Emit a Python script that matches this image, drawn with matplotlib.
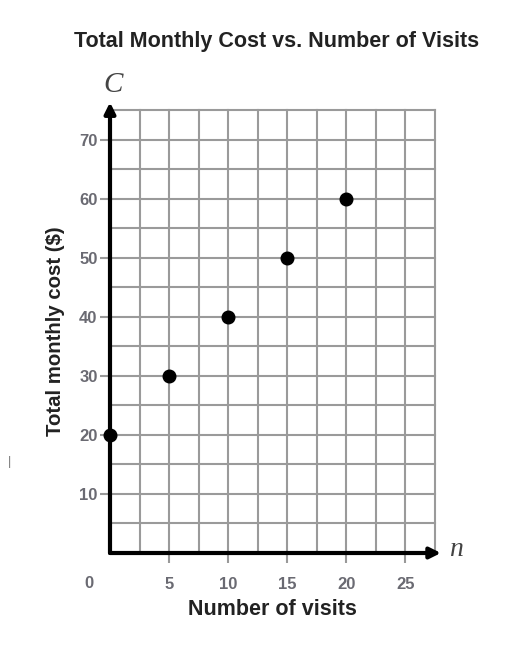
import matplotlib
matplotlib.use("Agg")
import matplotlib.pyplot as plt
import numpy as np

plt.rcParams['font.family'] = ['Liberation Sans', 'DejaVu Sans']

visits = [0, 5, 10, 15, 20]
cost = [20, 30, 40, 50, 60]
x_ticks = [5, 10, 15, 20, 25]
y_ticks = [10, 20, 30, 40, 50, 60, 70]

fig = plt.figure(figsize=(5.1, 6.45), dpi=100)
ax = fig.add_axes([110/510, 92/645, 325/510, 443/645])
ax.set_xlim(0, 27.5)
ax.set_ylim(0, 75)

grid_c = '#9a9a9a'
for gx in np.arange(2.5, 27.6, 2.5):
    ax.plot([gx, gx], [0, 75], color=grid_c, lw=1.5, clip_on=False, zorder=1)
for gy in np.arange(5, 75.1, 5):
    ax.plot([0, 27.5], [gy, gy], color=grid_c, lw=1.5, clip_on=False, zorder=1)

for s in ax.spines.values():
    s.set_visible(False)

# axis arrows
ax.annotate('', xy=(28.0, 0), xytext=(0, 0), xycoords='data',
            arrowprops=dict(arrowstyle='-|>', lw=3, color='black', mutation_scale=16,
                            shrinkA=0, shrinkB=0), annotation_clip=False, zorder=3)
ax.annotate('', xy=(0, 76.3), xytext=(0, 0), xycoords='data',
            arrowprops=dict(arrowstyle='-|>', lw=3, color='black', mutation_scale=16,
                            shrinkA=0, shrinkB=0), annotation_clip=False, zorder=3)

ax.scatter(visits, cost, s=82, color='black', zorder=5, clip_on=False)

ax.set_xticks(x_ticks)
ax.set_xticklabels([str(v) for v in x_ticks], fontweight='bold')
ax.set_yticks(y_ticks)
ax.set_yticklabels([str(v) for v in y_ticks], fontweight='bold')
ax.tick_params(axis='both', colors='#999999', labelcolor='#6a6a72', labelsize=12,
               length=7, width=1.5, direction='out')
ax.tick_params(axis='x', pad=10)
ax.tick_params(axis='y', pad=2)

ax.text(-1.75, -5.2, '0', ha='center', va='center', fontsize=12, color='#6a6a72',
        fontweight='bold')
ax.text(0.3, 79.2, 'C', ha='center', va='center', fontsize=21, color='#444444',
        family='Liberation Serif', style='italic')
ax.text(29.3, 0.6, 'n', ha='center', va='center', fontsize=20, color='#444444',
        family='Liberation Serif', style='italic')

ax.set_xlabel('Number of visits', fontsize=15.5, fontweight='bold', color='#222222', labelpad=5)
ax.set_ylabel('Total monthly cost ($)', fontsize=14.7, fontweight='bold', color='#222222', labelpad=10)

fig.text(277/510, 1 - 42/645, 'Total Monthly Cost vs. Number of Visits', ha='center', va='center',
         fontsize=15.5, fontweight='bold', color='#222222')
fig.text(10/510, 1 - 462/645, '|', ha='center', va='center', fontsize=9, color='#777777')

fig.savefig('out.png', dpi=100)
